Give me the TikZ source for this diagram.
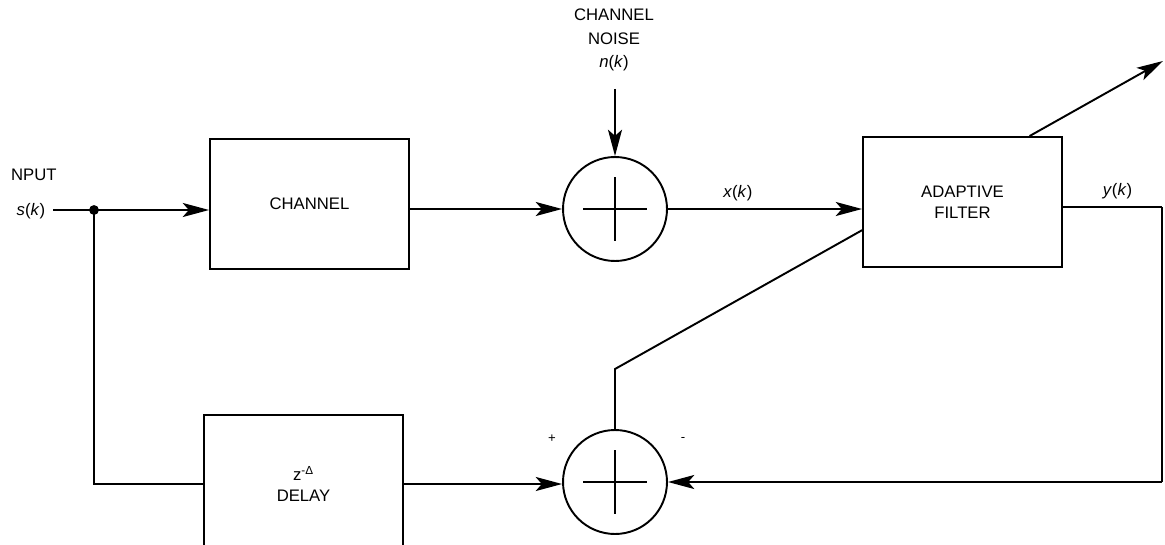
\documentclass[tikz,border=0pt]{standalone}
\usepackage{fontspec}
\setmainfont{Liberation Sans}
\usetikzlibrary{arrows.meta, calc}

\begin{document}
\begin{tikzpicture}[x=0.02cm, y=-0.02cm,
    every node/.style={font=\fontsize{9.5}{12}\selectfont},
    lab/.style={inner sep=1pt},
    sgn/.style={inner sep=1pt, font=\fontsize{7.5}{8}\selectfont},
    blk/.style={rectangle, draw, line width=1.1pt, minimum width=3.98cm,
                minimum height=2.6cm, align=center, inner sep=0pt},
    sum/.style={circle, draw, line width=1.1pt, minimum size=2.08cm, inner sep=0pt},
    wire/.style={line width=1.1pt},
    arr/.style={-{Stealth[length=15pt, width=8pt, inset=3.5pt]}, line width=1.1pt},
]
\clip (0,0) rectangle (1165,544);

% ================================================================ upper row
\node[lab, anchor=west] (inlab) at (9,175) {NPUT};
\node[lab] (sk) at (31,211) {\textit{s}(\textit{k})};
\coordinate (inp) at (53,210);
\coordinate (tap) at (94,210);

\node[blk] (chan) at (309.5,204) {CHANNEL};
\node[sum] (s1) at (615,209) {};
\node[blk] (filt) at (962.5,202) {ADAPTIVE\\FILTER};

\node[lab, align=center, font=\fontsize{9.5}{13.5}\selectfont] (noise) at (614,40)
    {CHANNEL\\NOISE\\\textit{n}(\textit{k})};
\coordinate (ntop) at (615,89);

\draw[arr] (inp) -- (tap -| chan.west);
\fill (tap) circle (2.8pt);
\draw[arr] (chan.east |- s1) -- (s1.west);
\draw[arr] (ntop) -- (s1.north);
\draw[arr] (s1.east) -- (s1.east -| filt.west)
    node[lab, pos=0.36, above=3pt] (xk) {\textit{x}(\textit{k})};

\draw[wire] ($(s1)+(-32,0)$) -- ($(s1)+(32,0)$);
\draw[wire] ($(s1)+(0,-32)$) -- ($(s1)+(0,32)$);

% ================================================================ lower row
\node[blk, minimum height=2.76cm] (dly) at (303.5,484) {z\textsuperscript{-Δ}\\DELAY};
\node[sum] (s2) at (615,482) {};
\node[sgn] (plus) at (552,439) {+};
\node[sgn] (minus) at (683,439) {-};

\draw[wire] ($(s2)+(-32,0)$) -- ($(s2)+(32,0)$);
\draw[wire] ($(s2)+(0,-32)$) -- ($(s2)+(0,32)$);

\draw[wire] (tap) |- (dly.west);
\draw[arr] (dly.east) -- (dly.east -| s2.west);

% ================================================================ output and error
\coordinate (yk) at (1162,207);
\draw[wire] (yk -| filt.east) -- (yk)
    node[lab, pos=0.55, above=3pt] (yklab) {\textit{y}(\textit{k})};
\draw[wire] (yk) -- (yk |- s2);
\draw[arr] (yk |- s2) -- (s2.east);

\coordinate (bend) at (615,369);
\coordinate (adtip) at (1163,61);
\draw[wire] (s2.north) -- (bend)
    -- (intersection of bend--adtip and filt.south west--filt.north west);
\draw[arr] (intersection of bend--adtip and filt.north west--filt.north east) -- (adtip);

\end{tikzpicture}
\end{document}
